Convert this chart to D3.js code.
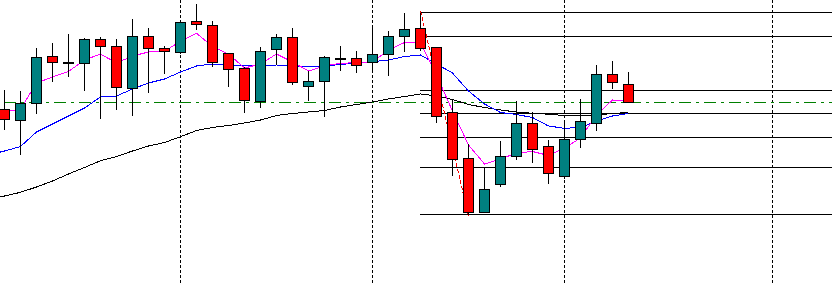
<!DOCTYPE html>
<html><head><meta charset="utf-8">
<script src="https://cdn.jsdelivr.net/npm/d3@7"></script>
<style>html,body{margin:0;padding:0;background:#fff;overflow:hidden}</style>
</head><body><svg id="c" width="832" height="283"></svg>
<script>
// Candle OHLC (bar index 0..39)
const open = [1.0891,1.0880,1.0897,1.0944,1.0938,1.0937,1.0961,1.0954,1.0912,1.0964,
  1.0952,1.0948,1.0979,1.0975,1.0947,1.0932,1.0899,1.0951,1.0963,1.0914,
  1.0919,1.0942,1.0942,1.0938,1.0946,1.0964,1.0972,1.0953,1.0888,1.0842,
  1.0788,1.0816,1.0844,1.0877,1.0854,1.0824,1.0861,1.0877,1.0926,1.0916];
const high = [1.0911,1.0910,1.0953,1.0958,1.0967,1.0963,1.0964,1.0962,1.0982,1.0973,
  1.0955,1.0979,1.0997,1.0980,1.0948,1.0934,1.0954,1.0967,1.0973,1.0930,
  1.0945,1.0955,1.0950,1.0975,1.0970,1.0988,1.0988,1.0953,1.0902,1.0857,
  1.0833,1.0860,1.0900,1.0889,1.0861,1.0881,1.0902,1.0936,1.0940,1.0929];
const low = [1.0871,1.0846,1.0887,1.0919,1.0924,1.0910,1.0882,1.0891,1.0885,1.0908,
  1.0927,1.0947,1.0971,1.0934,1.0914,1.0888,1.0893,1.0936,1.0916,1.0900,
  1.0884,1.0930,1.0928,1.0931,1.0925,1.0949,1.0950,1.0878,1.0825,1.0786,
  1.0788,1.0814,1.0841,1.0838,1.0817,1.0822,1.0853,1.0870,1.0912,1.0898];
const close = [1.0881,1.0897,1.0943,1.0938,1.0938,1.0961,1.0954,1.0913,1.0964,1.0952,
  1.0949,1.0978,1.0976,1.0938,1.0931,1.0900,1.0949,1.0963,1.0918,1.0919,
  1.0943,1.0942,1.0935,1.0946,1.0964,1.0971,1.0952,1.0884,1.0841,1.0788,
  1.0811,1.0844,1.0877,1.0851,1.0827,1.0861,1.0879,1.0926,1.0918,1.0898];

// Moving averages, bar index -1..39
const maStart = -1;
const maFast = [1.0885,1.0888,1.0891,1.0917,1.0923,1.09285,1.0940,1.0946,1.0937,1.0944,
  1.0948,1.09485,1.0959,1.09667,1.09535,1.0946,1.0932,1.0936,1.0946,1.0938,
  1.0929,1.0934,1.09367,1.09373,1.0938,1.0950,1.09575,1.0957,1.0925,1.0889,
  1.0855,1.0836,1.0841,1.0847,1.08485,1.08445,1.0852,1.0862,1.0885,1.0900,1.08995];
const maMid = [1.0845,1.0849,1.08535,1.0868,1.0876,1.0884,1.0892,1.0903,1.0904,1.0911,
  1.0917,1.0921,1.0928,1.0934,1.0936,1.0935,1.0934,1.09345,1.0935,1.0934,
  1.0933,1.0934,1.09355,1.0937,1.09383,1.0940,1.09435,1.0945,1.0936,1.0927,
  1.0909,1.0896,1.08875,1.08855,1.08825,1.0874,1.08717,1.08725,1.0879,1.0884,1.08865];
const maSlow = [1.0800,1.0804,1.08077,1.0813,1.0819,1.0826,1.08325,1.08393,1.08435,1.0849,
  1.0854,1.08575,1.08633,1.08695,1.08725,1.08745,1.0877,1.0880,1.08845,1.08865,
  1.0888,1.08895,1.0893,1.08955,1.0898,1.0901,1.09035,1.0906,1.0904,1.09005,
  1.08955,1.08925,1.0890,1.0888,1.08867,1.08858,1.08845,1.0884,1.0885,1.08865,1.08875];

// Fibonacci retracement: anchor bars / prices and level prices
const fibBars = [26, 29];
const fibPrices = [1.0989, 1.0784];
const fibLevels = [1.0988, 1.0964, 1.0910, 1.0887, 1.0863, 1.0833, 1.0786];
const hLinePrice = 1.0898;
const separatorBars = [11, 23, 35, 48];

const W = 832, H = 283;
const svg = d3.select('#c');
svg.append('rect').attr('width', W).attr('height', H).attr('fill', '#fff');

const x = d3.scaleLinear().domain([0, 1]).range([4.5, 20.5]);
const y = d3.scaleLinear().domain([1.1000, 1.0717]).range([0, H]);
const py = v => Math.round(y(v)) + 0.5;

// Fibonacci level lines
svg.append('g').selectAll('line').data(fibLevels).join('line')
  .attr('x1', x(fibBars[0]) - 0.5).attr('x2', W)
  .attr('y1', d => py(d)).attr('y2', d => py(d))
  .attr('stroke', '#000').attr('stroke-width', 1).attr('shape-rendering', 'crispEdges');

// Period separators
svg.append('g').selectAll('line').data(separatorBars).join('line')
  .attr('x1', d => x(d)).attr('x2', d => x(d))
  .attr('y1', 0).attr('y2', H)
  .attr('stroke', '#000').attr('stroke-width', 1)
  .attr('stroke-dasharray', '3,2').attr('shape-rendering', 'crispEdges');

// Green dash-dot horizontal line
svg.append('line')
  .attr('x1', 0).attr('x2', W).attr('y1', py(hLinePrice)).attr('y2', py(hLinePrice))
  .attr('stroke', '#008000').attr('stroke-width', 1)
  .attr('stroke-dasharray', '12,5,3,5').attr('stroke-dashoffset', 21)
  .attr('shape-rendering', 'crispEdges');

// Moving averages
const line = d3.line().x((d, i) => x(i + maStart)).y(d => y(d));
[[maSlow, '#000000'], [maMid, '#0000ff'], [maFast, '#ff00ff']].forEach(([arr, col]) => {
  svg.append('path').datum(arr).attr('d', line)
    .attr('fill', 'none').attr('stroke', col).attr('stroke-width', 1)
    .attr('shape-rendering', 'crispEdges');
});

// Fibonacci trend line (red dashed)
svg.append('line')
  .attr('x1', x(fibBars[0])).attr('y1', y(fibPrices[0]))
  .attr('x2', x(fibBars[1])).attr('y2', y(fibPrices[1]))
  .attr('stroke', '#ff0000').attr('stroke-width', 1).attr('stroke-dasharray', '4,2')
  .attr('shape-rendering', 'crispEdges');

// Candles
const idx = d3.range(open.length);
const g = svg.append('g').attr('shape-rendering', 'crispEdges');
g.selectAll('line.wick').data(idx).join('line').attr('class', 'wick')
  .attr('x1', i => x(i)).attr('x2', i => x(i))
  .attr('y1', i => py(high[i])).attr('y2', i => py(low[i]))
  .attr('stroke', '#000').attr('stroke-width', 1);
g.selectAll('rect.body').data(idx).join('rect').attr('class', 'body')
  .attr('x', i => x(i) - 5)
  .attr('y', i => py(Math.max(open[i], close[i])))
  .attr('width', 10)
  .attr('height', i => Math.max(1, py(Math.min(open[i], close[i])) - py(Math.max(open[i], close[i]))))
  .attr('fill', i => close[i] > open[i] ? '#008080' : (close[i] < open[i] ? '#ff0000' : '#000'))
  .attr('stroke', '#000').attr('stroke-width', 1);
</script>
</body></html>
